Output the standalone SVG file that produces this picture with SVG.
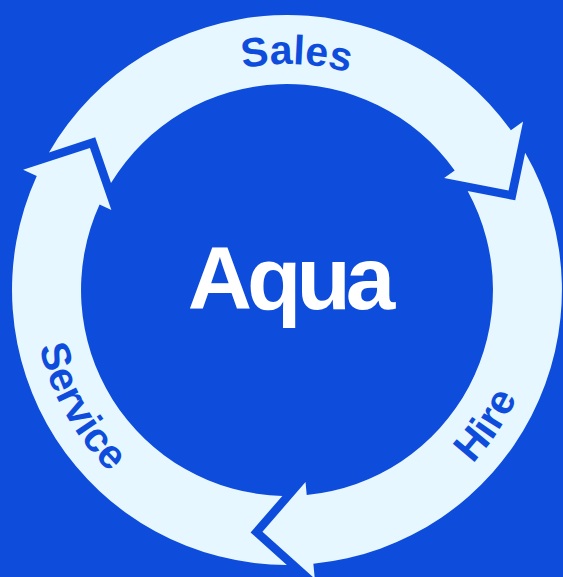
<svg xmlns="http://www.w3.org/2000/svg" xmlns:xlink="http://www.w3.org/1999/xlink" width="563" height="577" viewBox="0 0 563 577">
  <style>
    .bg { fill: #0e4cdb; }
    .arrow { fill: #e6f7ff; }
    .label { font-family: "Liberation Sans", Arial, sans-serif; font-weight: 700; font-size: 41px; fill: #0e4cdb; }
    .center { font-family: "Liberation Sans", Arial, sans-serif; font-weight: 700; font-size: 89px; fill: #ffffff; letter-spacing: -5px; }
  </style>
  <defs>
    <path id="arrowShape" d="M 49.0 152.4 A 275 275 0 0 1 510.9 130.3 L 523.1 121.6 L 508.6 190.4 L 444.1 177.9 L 454.7 170.4 A 206 206 0 0 0 111.0 183.0 L 95.2 137.2 Z"/>
    <path id="salesPath" d="M 91.3 177 A 226 226 0 0 1 491.2 193.1"/>
    <path id="hirePath" d="M 313.1 542.7 A 254 254 0 0 0 531.3 220.4"/>
    <path id="servicePath" d="M 49.2 200.6 A 254 254 0 0 0 240.3 539.7"/>
  </defs>
  <rect class="bg" x="0" y="0" width="563" height="577"/>
  <g id="connectors">
    <use id="arrow-sales" class="arrow" xlink:href="#arrowShape" href="#arrowShape"/>
    <use id="arrow-hire" class="arrow" xlink:href="#arrowShape" href="#arrowShape" transform="rotate(120 287 290)"/>
    <use id="arrow-service" class="arrow" xlink:href="#arrowShape" href="#arrowShape" transform="rotate(240 287 290)"/>
  </g>
  <g id="node-sales">
    <text class="label" text-anchor="middle"><textPath href="#salesPath" xlink:href="#salesPath" startOffset="50%">Sales</textPath></text>
  </g>
  <g id="node-hire">
    <text class="label" text-anchor="middle"><textPath href="#hirePath" xlink:href="#hirePath" startOffset="50%">Hire</textPath></text>
  </g>
  <g id="node-service">
    <text class="label" text-anchor="middle"><textPath href="#servicePath" xlink:href="#servicePath" startOffset="50%">Service</textPath></text>
  </g>
  <g id="node-aqua">
    <text class="center" x="289" y="309" text-anchor="middle">Aqua</text>
  </g>
</svg>
